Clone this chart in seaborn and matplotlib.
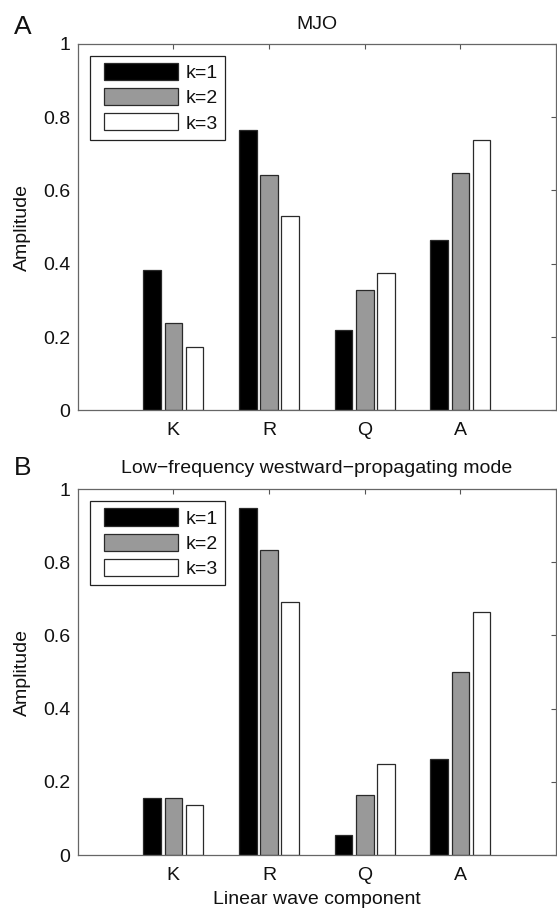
import matplotlib
matplotlib.use("Agg")
import matplotlib.pyplot as plt
import seaborn as sns
import pandas as pd
from matplotlib.patches import Patch
from matplotlib.legend_handler import HandlerPatch

categories = ["K", "R", "Q", "A"]
series = ["k=1", "k=2", "k=3"]
mjo_k1 = [0.382, 0.766, 0.219, 0.466]
mjo_k2 = [0.239, 0.642, 0.329, 0.647]
mjo_k3 = [0.174, 0.531, 0.375, 0.738]
lfw_k1 = [0.156, 0.949, 0.056, 0.261]
lfw_k2 = [0.155, 0.833, 0.165, 0.501]
lfw_k3 = [0.137, 0.692, 0.248, 0.663]
yticks = [0, 0.2, 0.4, 0.6, 0.8, 1]
ytick_labels = ["0", "0.2", "0.4", "0.6", "0.8", "1"]
colors = ["#000000", "#999999", "#ffffff"]

sns.set_theme(style="white")
plt.rcParams["font.family"] = ["Liberation Sans", "DejaVu Sans"]

FS = 14
TXT = "#111111"

def make_df(vals):
    rows = []
    for s, v in zip(series, vals):
        for c, y in zip(categories, v):
            rows.append({"component": c, "k": s, "amp": y})
    return pd.DataFrame(rows)

W, H = 557, 910
fig = plt.figure(figsize=(W / 100, H / 100), dpi=100)

def px_axes(left, top, right, bottom):
    return fig.add_axes([left / W, 1 - bottom / H, (right - left) / W, (bottom - top) / H])

axA = px_axes(77.7, 43.7, 556, 410.5)
axB = px_axes(77.7, 489.0, 556, 855.0)

panels = [
    (axA, [mjo_k1, mjo_k2, mjo_k3], "MJO", "A", False, 34, 10.5),
    (axB, [lfw_k1, lfw_k2, lfw_k3], "Low\u2212frequency westward\u2212propagating mode", "B", True, 475, 11.5),
]

fs_px = FS * 100 / 72.0

for ax, vals, title, letter, xlab, letter_y, tpad in panels:
    df = make_df(vals)
    sns.barplot(data=df, x="component", y="amp", hue="k", order=categories,
                hue_order=series, palette=colors, saturation=1, width=0.667,
                gap=0.17, edgecolor="#2a2a2a", linewidth=0.9, ax=ax,
                errorbar=None, legend=False)
    ax.set_xlim(-1, 4)
    ax.set_ylim(0, 1)
    ax.set_yticks(yticks)
    ax.set_yticklabels(ytick_labels)
    ax.tick_params(axis="both", direction="in", length=3.8, width=0.8,
                   colors="#555555", labelcolor=TXT, labelsize=FS,
                   top=True, right=True)
    ax.tick_params(axis="y", pad=5.5)
    ax.tick_params(axis="x", pad=8.5)
    for sp in ax.spines.values():
        sp.set_visible(True)
        sp.set_color("#666666")
        sp.set_linewidth(0.9)
    ax.set_ylabel("Amplitude", fontsize=FS, color=TXT)
    ax.yaxis.set_label_coords(-0.098, 0.5)
    if xlab:
        ax.set_xlabel("Linear wave component", fontsize=FS, color=TXT, labelpad=5)
    else:
        ax.set_xlabel("")
    ax.set_title(title, fontsize=FS, color=TXT, pad=tpad)
    fig.text(14 / W, 1 - letter_y / H, letter, fontsize=19, color=TXT,
             ha="left", va="baseline")
    handles = [Patch(facecolor=c, edgecolor="#2a2a2a", linewidth=0.9) for c in colors]
    b_px = 7.0
    inset_px = 7.3
    leg = ax.legend(handles, series, loc="upper left",
                    bbox_to_anchor=(12.3 / 478.3, 1 - 12.5 / 366.8),
                    borderaxespad=0, fontsize=FS,
                    handlelength=81.3 / fs_px, handleheight=19 / fs_px,
                    labelspacing=0.3, handletextpad=7.7 / fs_px,
                    borderpad=b_px / fs_px, fancybox=False, framealpha=1,
                    edgecolor="#222222",
                    handler_map={Patch: HandlerPatch(xpad=inset_px / fs_px)})
    leg.get_frame().set_linewidth(0.9)
    for t in leg.get_texts():
        t.set_color(TXT)

fig.savefig("out.png", dpi=100)
